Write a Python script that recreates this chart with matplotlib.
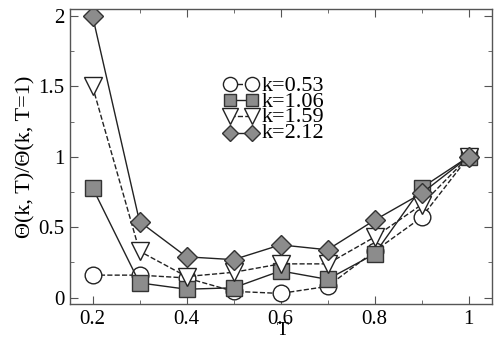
import matplotlib
matplotlib.use("Agg")
import matplotlib.pyplot as plt
from matplotlib.ticker import MultipleLocator

T = [0.2, 0.3, 0.4, 0.5, 0.6, 0.7, 0.8, 0.9, 1.0]
labels = ["k=0.53", "k=1.06", "k=1.59", "k=2.12"]
k053 = [0.16, 0.16, 0.14, 0.045, 0.03, 0.08, 0.33, 0.57, 1.0]
k106 = [0.78, 0.105, 0.06, 0.07, 0.19, 0.13, 0.31, 0.78, 1.0]
k159 = [1.50, 0.33, 0.15, 0.18, 0.24, 0.24, 0.43, 0.66, 1.0]
k212 = [2.00, 0.54, 0.29, 0.27, 0.375, 0.34, 0.55, 0.74, 1.0]

plt.rcParams['font.family'] = ['Liberation Serif', 'DejaVu Serif']

fig = plt.figure(figsize=(4.94, 3.4), dpi=100)
ax = fig.add_axes([70/494, 36/340, 422/494, 295/340])

grey = '#8c8c8c'
lc = '#222222'
ec = '#333333'
h1, = ax.plot(T, k053, ls='--', color=lc, lw=1.0, marker='o', ms=12, mfc='white', mec=lc, mew=1.0)
h2, = ax.plot(T, k106, ls='-', color=lc, lw=1.0, marker='s', ms=11, mfc=grey, mec=ec, mew=1.0)
h3, = ax.plot(T, k159, ls='--', color=lc, lw=1.0, marker='v', ms=13, mfc='white', mec=lc, mew=1.0)
h4, = ax.plot(T, k212, ls='-', color=lc, lw=1.0, marker='D', ms=10, mfc=grey, mec=ec, mew=1.0)

ax.set_xlim(0.152, 1.05)
ax.set_ylim(-0.045, 2.05)
ax.xaxis.set_minor_locator(MultipleLocator(0.1))
ax.yaxis.set_minor_locator(MultipleLocator(0.25))
ax.set_xticks([0.2, 0.4, 0.6, 0.8, 1.0])
ax.set_xticklabels(['0.2', '0.4', '0.6', '0.8', '1'])
ax.set_yticks([0, 0.5, 1, 1.5, 2])
ax.set_yticklabels(['0', '0.5', '1', '1.5', '2'])
ax.tick_params(which='both', direction='in', top=True, right=True, color='#555555', labelsize=15, pad=4)
ax.tick_params(which='major', length=6)
ax.tick_params(which='minor', length=3)
for s in ax.spines.values():
    s.set_color('#555555')
    s.set_linewidth(1.0)

ax.set_xlabel('T', fontsize=14, va='bottom')
ax.xaxis.set_label_coords(283/494, 1/340, transform=fig.transFigure)
ax.set_ylabel('\u0398(k, T)/\u0398(k, T=1)', fontsize=16, labelpad=2)

# legend handles (markers) with the labels drawn as one text block beside them
leg = ax.legend([h1, h2, h3, h4], [''] * 4, loc='upper left',
                bbox_to_anchor=(223/494, 1 - 76/340), bbox_transform=fig.transFigure,
                frameon=False, numpoints=2, handlelength=1.6, handletextpad=0.0,
                handleheight=0.7, labelspacing=-0.19, fontsize=16, borderpad=0,
                borderaxespad=0, markerscale=0.85)
fig.text(262/494, 1 - 110/340, "\n".join(labels), fontsize=16, va='center', ha='left',
         linespacing=0.76)

fig.savefig('out.png', dpi=100)
